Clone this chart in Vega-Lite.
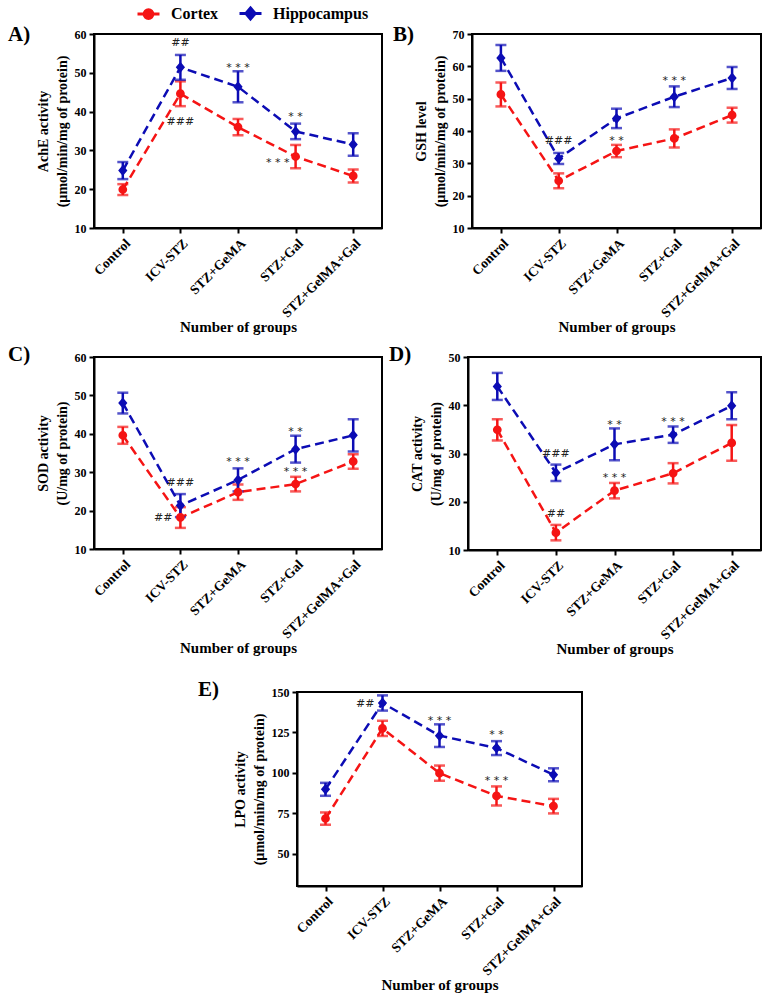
{
  "$schema": "https://vega.github.io/schema/vega-lite/v6.json",
  "padding": {"left": 7, "top": 1, "right": 0, "bottom": 0},
  "config": {
    "font": "Liberation Serif",
    "view": {"stroke": "black", "strokeWidth": 2},
    "axis": {"domainColor": "black", "domainWidth": 2, "tickColor": "black", "tickWidth": 2, "tickSize": 5, "labelFont": "Liberation Serif", "labelFontWeight": "bold", "labelFontSize": 12, "labelColor": "black", "titleFont": "Liberation Serif", "titleFontWeight": "bold", "titleFontSize": 14, "titleColor": "black", "titleLineHeight": 19, "grid": false},
    "axisX": {"labelAngle": -45, "labelFontSize": 13.5, "titleFontSize": 15, "titlePadding": 0, "labelPadding": 3},
    "axisY": {"titlePadding": 5, "labelPadding": 3},
    "legend": {"symbolStrokeWidth": 3},
    "title": {"font": "Liberation Serif", "fontWeight": "bold", "fontSize": 21, "color": "black", "anchor": "start", "frame": "group", "baseline": "middle", "offset": 4}
  },
  "datasets": {
    "ache": [
      {"g": "Control", "Region": "Cortex", "m": 19.9, "e": 1.4},
      {"g": "ICV-STZ", "Region": "Cortex", "m": 44.6, "e": 3.2},
      {"g": "STZ+GeMA", "Region": "Cortex", "m": 36.0, "e": 2.1},
      {"g": "STZ+Gal", "Region": "Cortex", "m": 28.4, "e": 3.0},
      {"g": "STZ+GelMA+Gal", "Region": "Cortex", "m": 23.4, "e": 1.7},
      {"g": "Control", "Region": "Hippocampus", "m": 24.8, "e": 2.2},
      {"g": "ICV-STZ", "Region": "Hippocampus", "m": 51.4, "e": 3.2},
      {"g": "STZ+GeMA", "Region": "Hippocampus", "m": 46.4, "e": 4.0},
      {"g": "STZ+Gal", "Region": "Hippocampus", "m": 34.9, "e": 2.0},
      {"g": "STZ+GelMA+Gal", "Region": "Hippocampus", "m": 31.5, "e": 2.9}
    ],
    "gsh": [
      {"g": "Control", "Region": "Cortex", "m": 51.3, "e": 3.7},
      {"g": "ICV-STZ", "Region": "Cortex", "m": 24.6, "e": 2.3},
      {"g": "STZ+GeMA", "Region": "Cortex", "m": 33.8, "e": 1.9},
      {"g": "STZ+Gal", "Region": "Cortex", "m": 37.7, "e": 2.8},
      {"g": "STZ+GelMA+Gal", "Region": "Cortex", "m": 44.9, "e": 2.3},
      {"g": "Control", "Region": "Hippocampus", "m": 62.6, "e": 4.0},
      {"g": "ICV-STZ", "Region": "Hippocampus", "m": 31.5, "e": 1.7},
      {"g": "STZ+GeMA", "Region": "Hippocampus", "m": 43.9, "e": 3.0},
      {"g": "STZ+Gal", "Region": "Hippocampus", "m": 50.6, "e": 3.2},
      {"g": "STZ+GelMA+Gal", "Region": "Hippocampus", "m": 56.4, "e": 3.4}
    ],
    "sod": [
      {"g": "Control", "Region": "Cortex", "m": 39.6, "e": 2.2},
      {"g": "ICV-STZ", "Region": "Cortex", "m": 18.2, "e": 2.7},
      {"g": "STZ+GeMA", "Region": "Cortex", "m": 24.8, "e": 2.0},
      {"g": "STZ+Gal", "Region": "Cortex", "m": 26.9, "e": 1.9},
      {"g": "STZ+GelMA+Gal", "Region": "Cortex", "m": 32.8, "e": 1.9},
      {"g": "Control", "Region": "Hippocampus", "m": 48.0, "e": 2.7},
      {"g": "ICV-STZ", "Region": "Hippocampus", "m": 21.3, "e": 3.0},
      {"g": "STZ+GeMA", "Region": "Hippocampus", "m": 28.0, "e": 3.0},
      {"g": "STZ+Gal", "Region": "Hippocampus", "m": 36.0, "e": 3.5},
      {"g": "STZ+GelMA+Gal", "Region": "Hippocampus", "m": 39.6, "e": 4.2}
    ],
    "cat": [
      {"g": "Control", "Region": "Cortex", "m": 34.9, "e": 2.2},
      {"g": "ICV-STZ", "Region": "Cortex", "m": 13.6, "e": 1.6},
      {"g": "STZ+GeMA", "Region": "Cortex", "m": 22.3, "e": 1.6},
      {"g": "STZ+Gal", "Region": "Cortex", "m": 25.9, "e": 2.1},
      {"g": "STZ+GelMA+Gal", "Region": "Cortex", "m": 32.2, "e": 3.7},
      {"g": "Control", "Region": "Hippocampus", "m": 43.9, "e": 2.8},
      {"g": "ICV-STZ", "Region": "Hippocampus", "m": 26.0, "e": 1.7},
      {"g": "STZ+GeMA", "Region": "Hippocampus", "m": 31.9, "e": 3.3},
      {"g": "STZ+Gal", "Region": "Hippocampus", "m": 33.9, "e": 1.7},
      {"g": "STZ+GelMA+Gal", "Region": "Hippocampus", "m": 39.9, "e": 2.8}
    ],
    "lpo": [
      {"g": "Control", "Region": "Cortex", "m": 71.7, "e": 3.8},
      {"g": "ICV-STZ", "Region": "Cortex", "m": 127.5, "e": 4.7},
      {"g": "STZ+GeMA", "Region": "Cortex", "m": 99.8, "e": 4.7},
      {"g": "STZ+Gal", "Region": "Cortex", "m": 85.7, "e": 5.9},
      {"g": "STZ+GelMA+Gal", "Region": "Cortex", "m": 79.4, "e": 4.5},
      {"g": "Control", "Region": "Hippocampus", "m": 89.8, "e": 4.0},
      {"g": "ICV-STZ", "Region": "Hippocampus", "m": 143.2, "e": 4.7},
      {"g": "STZ+GeMA", "Region": "Hippocampus", "m": 123.0, "e": 7.0},
      {"g": "STZ+Gal", "Region": "Hippocampus", "m": 115.3, "e": 4.3},
      {"g": "STZ+GelMA+Gal", "Region": "Hippocampus", "m": 98.8, "e": 4.0}
    ],
    "annA": [
      {"g": "ICV-STZ", "m": 57.8, "t": "##"},
      {"g": "ICV-STZ", "m": 37.4, "t": "###"},
      {"g": "STZ+GeMA", "m": 51.2, "t": "* * *"},
      {"g": "STZ+Gal", "m": 38.7, "t": "* *"}
    ],
    "annAL": [
      {"g": "STZ+Gal", "m": 26.7, "t": "* * *"}
    ],
    "annB": [
      {"g": "ICV-STZ", "m": 37.0, "t": "###"},
      {"g": "STZ+GeMA", "m": 36.8, "t": "* *"},
      {"g": "STZ+Gal", "m": 55.6, "t": "* * *"}
    ],
    "annC": [
      {"g": "ICV-STZ", "m": 27.1, "t": "###"},
      {"g": "STZ+GeMA", "m": 32.6, "t": "* * *"},
      {"g": "STZ+Gal", "m": 40.5, "t": "* *"},
      {"g": "STZ+Gal", "m": 30.0, "t": "* * *"}
    ],
    "annCL": [
      {"g": "ICV-STZ", "m": 18.0, "t": "##"}
    ],
    "annD": [
      {"g": "ICV-STZ", "m": 30.0, "t": "###"},
      {"g": "ICV-STZ", "m": 17.4, "t": "##"},
      {"g": "STZ+GeMA", "m": 36.0, "t": "* *"},
      {"g": "STZ+GeMA", "m": 25.0, "t": "* * *"},
      {"g": "STZ+Gal", "m": 36.5, "t": "* * *"}
    ],
    "annE": [
      {"g": "STZ+GeMA", "m": 132.2, "t": "* * *"},
      {"g": "STZ+Gal", "m": 123.1, "t": "* *"},
      {"g": "STZ+Gal", "m": 94.9, "t": "* * *"}
    ],
    "annEL": [
      {"g": "ICV-STZ", "m": 142.3, "t": "##"}
    ]
  },
  "spacing": 323,
  "bounds": "flush",
  "vconcat": [
    {
      "hconcat": [
        {
          "width": 288, "height": 194,
          "title": {"text": "A)", "dx": -86, "dy": 21},
          "data": {"name": "ache"},
          "encoding": {
            "x": {"field": "g", "type": "nominal", "scale": {"type": "point", "padding": 0.5, "domain": ["Control", "ICV-STZ", "STZ+GeMA", "STZ+Gal", "STZ+GelMA+Gal"]}, "axis": {"title": "Number of  groups"}},
            "y": {"field": "m", "type": "quantitative", "scale": {"domain": [10, 60], "nice": false}, "axis": {"title": ["AchE activity", "(µmol/min/mg of protein)"], "values": [10, 20, 30, 40, 50, 60]}}
          },
          "layer": [
            {"transform": [{"filter": "datum.Region === 'Cortex'"}], "mark": {"type": "line", "color": "#f51414", "strokeDash": [9, 5], "strokeWidth": 2.5}},
            {"transform": [{"filter": "datum.Region === 'Hippocampus'"}], "mark": {"type": "line", "color": "#0c0cb4", "strokeDash": [9, 5], "strokeWidth": 2.5}},
            {"transform": [{"filter": "datum.Region === 'Cortex'"}], "mark": {"type": "errorbar", "color": "#f51414", "ticks": {"size": 11}, "thickness": 2.5}, "encoding": {"yError": {"field": "e"}}},
            {"transform": [{"filter": "datum.Region === 'Hippocampus'"}], "mark": {"type": "errorbar", "color": "#0c0cb4", "ticks": {"size": 11}, "thickness": 2.5}, "encoding": {"yError": {"field": "e"}}},
            {
              "mark": {"type": "point", "filled": true, "size": 484, "opacity": 1},
              "encoding": {
                "shape": {"field": "Region", "type": "nominal", "scale": {"domain": ["Cortex", "Hippocampus"], "range": ["M-1,0H1M-0.4,0A0.4,0.4 0 1,0 0.4,0A0.4,0.4 0 1,0 -0.4,0Z", "M-1,0H1M0,-0.5L0.42,0L0,0.5L-0.42,0Z"]}, "legend": {"title": null, "orient": "none", "legendX": 42, "legendY": -33, "direction": "horizontal", "symbolSize": 484, "symbolStrokeWidth": 3, "labelFont": "Liberation Serif", "labelFontWeight": "bold", "labelFontSize": 16, "labelColor": "black", "labelOffset": 10, "columnPadding": 14}},
                "color": {"field": "Region", "type": "nominal", "scale": {"domain": ["Cortex", "Hippocampus"], "range": ["#f51414", "#0c0cb4"]}, "legend": {"title": null, "orient": "none", "legendX": 42, "legendY": -33, "direction": "horizontal", "symbolSize": 484, "symbolStrokeWidth": 3, "labelFont": "Liberation Serif", "labelFontWeight": "bold", "labelFontSize": 16, "labelColor": "black", "labelOffset": 10, "columnPadding": 14}},
                "stroke": {"field": "Region", "type": "nominal", "scale": {"domain": ["Cortex", "Hippocampus"], "range": ["#f51414", "#0c0cb4"]}, "legend": {"title": null, "orient": "none", "legendX": 42, "legendY": -33, "direction": "horizontal", "symbolSize": 484, "symbolStrokeWidth": 3, "labelFont": "Liberation Serif", "labelFontWeight": "bold", "labelFontSize": 16, "labelColor": "black", "labelOffset": 10, "columnPadding": 14}},
                "strokeWidth": {"value": 0}
              }
            },
            {"data": {"name": "annA"}, "mark": {"type": "text", "font": "DejaVu Sans", "fontSize": 11, "baseline": "middle"}, "encoding": {"text": {"field": "t"}, "color": {"value": "#222222"}}},
            {"data": {"name": "annAL"}, "mark": {"type": "text", "font": "DejaVu Sans", "fontSize": 11, "baseline": "middle", "align": "right", "dx": -6}, "encoding": {"text": {"field": "t"}, "color": {"value": "#222222"}}}
          ]
        },
        {
          "width": 289, "height": 194,
          "title": {"text": "B)", "dx": -79, "dy": 21},
          "data": {"name": "gsh"},
          "encoding": {
            "x": {"field": "g", "type": "nominal", "scale": {"type": "point", "padding": 0.5, "domain": ["Control", "ICV-STZ", "STZ+GeMA", "STZ+Gal", "STZ+GelMA+Gal"]}, "axis": {"title": "Number of  groups"}},
            "y": {"field": "m", "type": "quantitative", "scale": {"domain": [10, 70], "nice": false}, "axis": {"title": ["GSH level", "(µmol/min/mg of protein)"], "values": [10, 20, 30, 40, 50, 60, 70]}},
            "color": {"field": "Region", "type": "nominal", "scale": {"domain": ["Cortex", "Hippocampus"], "range": ["#f51414", "#0c0cb4"]}, "legend": null}
          },
          "layer": [
            {"mark": {"type": "line", "strokeDash": [9, 5], "strokeWidth": 2.5}},
            {"mark": {"type": "errorbar", "ticks": {"size": 11}, "thickness": 2.5}, "encoding": {"yError": {"field": "e"}}},
            {"mark": {"type": "point", "filled": true, "size": 484, "opacity": 1}, "encoding": {"shape": {"field": "Region", "type": "nominal", "scale": {"domain": ["Cortex", "Hippocampus"], "range": ["M-1,0H1M-0.4,0A0.4,0.4 0 1,0 0.4,0A0.4,0.4 0 1,0 -0.4,0Z", "M-1,0H1M0,-0.5L0.42,0L0,0.5L-0.42,0Z"]}, "legend": null}, "strokeWidth": {"value": 0}}},
            {"data": {"name": "annB"}, "mark": {"type": "text", "font": "DejaVu Sans", "fontSize": 11, "baseline": "middle"}, "encoding": {"text": {"field": "t"}, "color": {"value": "#222222"}}}
          ]
        }
      ],
      "spacing": 90,
      "bounds": "flush"
    },
    {
      "hconcat": [
        {
          "width": 288, "height": 192,
          "title": {"text": "C)", "dx": -86, "dy": 18},
          "data": {"name": "sod"},
          "encoding": {
            "x": {"field": "g", "type": "nominal", "scale": {"type": "point", "padding": 0.5, "domain": ["Control", "ICV-STZ", "STZ+GeMA", "STZ+Gal", "STZ+GelMA+Gal"]}, "axis": {"title": "Number of  groups"}},
            "y": {"field": "m", "type": "quantitative", "scale": {"domain": [10, 60], "nice": false}, "axis": {"title": ["SOD activity", "(U/mg of protein)"], "values": [10, 20, 30, 40, 50, 60]}},
            "color": {"field": "Region", "type": "nominal", "scale": {"domain": ["Cortex", "Hippocampus"], "range": ["#f51414", "#0c0cb4"]}, "legend": null}
          },
          "layer": [
            {"mark": {"type": "line", "strokeDash": [9, 5], "strokeWidth": 2.5}},
            {"mark": {"type": "errorbar", "ticks": {"size": 11}, "thickness": 2.5}, "encoding": {"yError": {"field": "e"}}},
            {"mark": {"type": "point", "filled": true, "size": 484, "opacity": 1}, "encoding": {"shape": {"field": "Region", "type": "nominal", "scale": {"domain": ["Cortex", "Hippocampus"], "range": ["M-1,0H1M-0.4,0A0.4,0.4 0 1,0 0.4,0A0.4,0.4 0 1,0 -0.4,0Z", "M-1,0H1M0,-0.5L0.42,0L0,0.5L-0.42,0Z"]}, "legend": null}, "strokeWidth": {"value": 0}}},
            {"data": {"name": "annC"}, "mark": {"type": "text", "font": "DejaVu Sans", "fontSize": 11, "baseline": "middle"}, "encoding": {"text": {"field": "t"}, "color": {"value": "#222222"}}},
            {"data": {"name": "annCL"}, "mark": {"type": "text", "font": "DejaVu Sans", "fontSize": 11, "baseline": "middle", "align": "right", "dx": -8}, "encoding": {"text": {"field": "t"}, "color": {"value": "#222222"}}}
          ]
        },
        {
          "width": 293, "height": 193,
          "title": {"text": "D)", "dx": -79, "dy": 18},
          "data": {"name": "cat"},
          "encoding": {
            "x": {"field": "g", "type": "nominal", "scale": {"type": "point", "padding": 0.5, "domain": ["Control", "ICV-STZ", "STZ+GeMA", "STZ+Gal", "STZ+GelMA+Gal"]}, "axis": {"title": "Number of  groups"}},
            "y": {"field": "m", "type": "quantitative", "scale": {"domain": [10, 50], "nice": false}, "axis": {"title": ["CAT activity", "(U/mg of protein)"], "values": [10, 20, 30, 40, 50]}},
            "color": {"field": "Region", "type": "nominal", "scale": {"domain": ["Cortex", "Hippocampus"], "range": ["#f51414", "#0c0cb4"]}, "legend": null}
          },
          "layer": [
            {"mark": {"type": "line", "strokeDash": [9, 5], "strokeWidth": 2.5}},
            {"mark": {"type": "errorbar", "ticks": {"size": 11}, "thickness": 2.5}, "encoding": {"yError": {"field": "e"}}},
            {"mark": {"type": "point", "filled": true, "size": 484, "opacity": 1}, "encoding": {"shape": {"field": "Region", "type": "nominal", "scale": {"domain": ["Cortex", "Hippocampus"], "range": ["M-1,0H1M-0.4,0A0.4,0.4 0 1,0 0.4,0A0.4,0.4 0 1,0 -0.4,0Z", "M-1,0H1M0,-0.5L0.42,0L0,0.5L-0.42,0Z"]}, "legend": null}, "strokeWidth": {"value": 0}}},
            {"data": {"name": "annD"}, "mark": {"type": "text", "font": "DejaVu Sans", "fontSize": 11, "baseline": "middle"}, "encoding": {"text": {"field": "t"}, "color": {"value": "#222222"}}}
          ]
        }
      ],
      "spacing": 86,
      "bounds": "flush"
    },
    {
      "hconcat": [
        {"width": 113, "height": 1, "view": {"stroke": null}, "data": {"values": []}, "mark": {"type": "point", "opacity": 0}, "encoding": {}},
        {
          "vconcat": [
            {"width": 285, "height": 1, "view": {"stroke": null}, "data": {"values": []}, "mark": {"type": "point", "opacity": 0}, "encoding": {}},
            {
              "width": 285, "height": 194,
              "title": {"text": "E)", "dx": -99, "dy": 18},
              "data": {"name": "lpo"},
              "encoding": {
                "x": {"field": "g", "type": "nominal", "scale": {"type": "point", "padding": 0.5, "domain": ["Control", "ICV-STZ", "STZ+GeMA", "STZ+Gal", "STZ+GelMA+Gal"]}, "axis": {"title": "Number of  groups"}},
                "y": {"field": "m", "type": "quantitative", "scale": {"domain": [30, 150], "nice": false}, "axis": {"title": ["LPO activity", "(µmol/min/mg of protein)"], "values": [50, 75, 100, 125, 150]}},
                "color": {"field": "Region", "type": "nominal", "scale": {"domain": ["Cortex", "Hippocampus"], "range": ["#f51414", "#0c0cb4"]}, "legend": null}
              },
              "layer": [
                {"mark": {"type": "line", "strokeDash": [9, 5], "strokeWidth": 2.5}},
                {"mark": {"type": "errorbar", "ticks": {"size": 11}, "thickness": 2.5}, "encoding": {"yError": {"field": "e"}}},
                {"mark": {"type": "point", "filled": true, "size": 484, "opacity": 1}, "encoding": {"shape": {"field": "Region", "type": "nominal", "scale": {"domain": ["Cortex", "Hippocampus"], "range": ["M-1,0H1M-0.4,0A0.4,0.4 0 1,0 0.4,0A0.4,0.4 0 1,0 -0.4,0Z", "M-1,0H1M0,-0.5L0.42,0L0,0.5L-0.42,0Z"]}, "legend": null}, "strokeWidth": {"value": 0}}},
                {"data": {"name": "annE"}, "mark": {"type": "text", "font": "DejaVu Sans", "fontSize": 11, "baseline": "middle"}, "encoding": {"text": {"field": "t"}, "color": {"value": "#222222"}}},
                {"data": {"name": "annEL"}, "mark": {"type": "text", "font": "DejaVu Sans", "fontSize": 11, "baseline": "middle", "align": "right", "dx": -8}, "encoding": {"text": {"field": "t"}, "color": {"value": "#222222"}}}
              ]
            }
          ],
          "spacing": 11,
          "bounds": "flush"
        }
      ],
      "spacing": 90,
      "bounds": "flush"
    }
  ]
}
